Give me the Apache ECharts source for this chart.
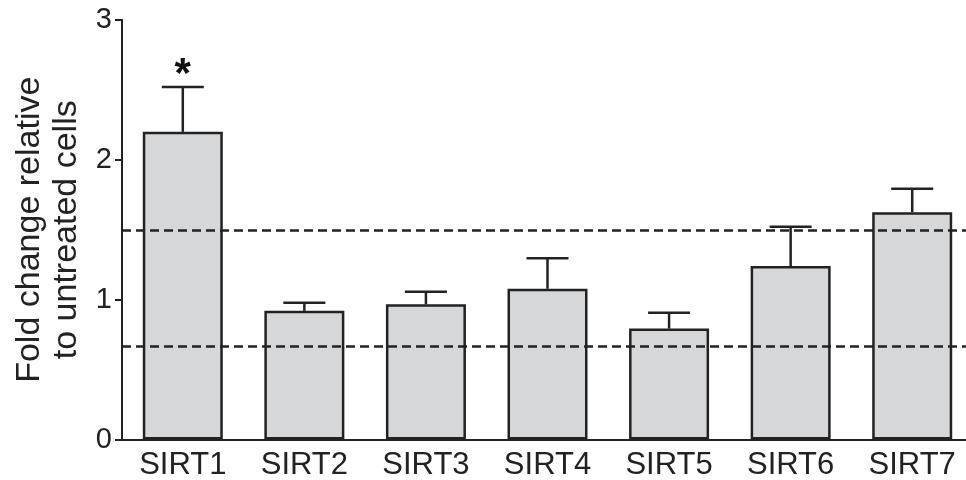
<!DOCTYPE html>
<html><head><meta charset="utf-8">
<script src="https://cdn.jsdelivr.net/npm/echarts@6/dist/echarts.min.js"></script>
<style>html,body{margin:0;padding:0;background:#fff}#c{width:966px;height:480px}</style>
</head><body><div id="c"></div>
<script>
const categories = ["SIRT1","SIRT2","SIRT3","SIRT4","SIRT5","SIRT6","SIRT7"];
const foldChange = [2.20, 0.92, 0.967, 1.078, 0.793, 1.24, 1.625];
const errorTop = [2.52, 0.978, 1.057, 1.296, 0.907, 1.522, 1.794];
const significance = ["*", "", "", "", "", "", ""];
const thresholds = [1.5, 0.67];
const yTicks = [0, 1, 2, 3];

const ink = '#222';
const font = 'Liberation Sans, Arial, sans-serif';
const chart = echarts.init(document.getElementById('c'), null, {renderer:'canvas'});
chart.setOption({
  animation: false,
  backgroundColor: '#fff',
  grid: {left: 122, right: -7, top: 20, bottom: 40.5, containLabel: false, outerBoundsMode: 'none'},
  xAxis: {
    type: 'category', data: categories,
    axisLine: {lineStyle: {color: ink, width: 2}},
    axisTick: {alignWithLabel: true, length: 7, lineStyle: {color: ink, width: 2}},
    axisLabel: {color: ink, fontSize: 31, fontFamily: font, margin: 10}
  },
  yAxis: {
    type: 'value', min: yTicks[0], max: yTicks[yTicks.length-1], interval: 1,
    name: 'Fold change relative\nto untreated cells', nameLocation: 'middle', nameGap: 36,
    nameTextStyle: {color: ink, fontSize: 34, lineHeight: 37, fontFamily: font},
    axisLine: {show: true, lineStyle: {color: ink, width: 2}},
    axisTick: {show: true, length: 7, lineStyle: {color: ink, width: 2}},
    splitLine: {show: false},
    axisLabel: {color: ink, fontSize: 29, fontFamily: font, margin: 10}
  },
  series: [
    {
      type: 'line', data: [], z: 1, silent: true,
      markLine: {
        silent: true, symbol: 'none', label: {show: false},
        lineStyle: {color: ink, width: 2.5, type: [9, 5]},
        data: thresholds.map(v => ({yAxis: v}))
      }
    },
    {
      type: 'bar', data: foldChange, barWidth: 80, z: 3,
      itemStyle: {color: '#d6d7d9', borderColor: ink, borderWidth: 2.5}
    },
    {
      type: 'custom', z: 4,
      data: categories.map((c, i) => [i, foldChange[i], errorTop[i]]),
      renderItem: function (params, api) {
        const base = api.coord([api.value(0), api.value(1)]);
        const top = api.coord([api.value(0), api.value(2)]);
        const half = 21;
        const children = [
          {type: 'line', shape: {x1: base[0], y1: base[1], x2: top[0], y2: top[1]}, style: {stroke: ink, lineWidth: 2.5}},
          {type: 'line', shape: {x1: top[0]-half, y1: top[1], x2: top[0]+half, y2: top[1]}, style: {stroke: ink, lineWidth: 2.5}}
        ];
        const s = significance[params.dataIndex];
        if (s) {
          children.push({type: 'text', x: top[0], y: top[1] + 9, style: {text: s, fill: '#111', font: 'bold 42px Liberation Sans, Arial, sans-serif', align: 'center', verticalAlign: 'bottom'}});
        }
        return {type: 'group', children: children};
      }
    }
  ]
});
</script></body></html>
